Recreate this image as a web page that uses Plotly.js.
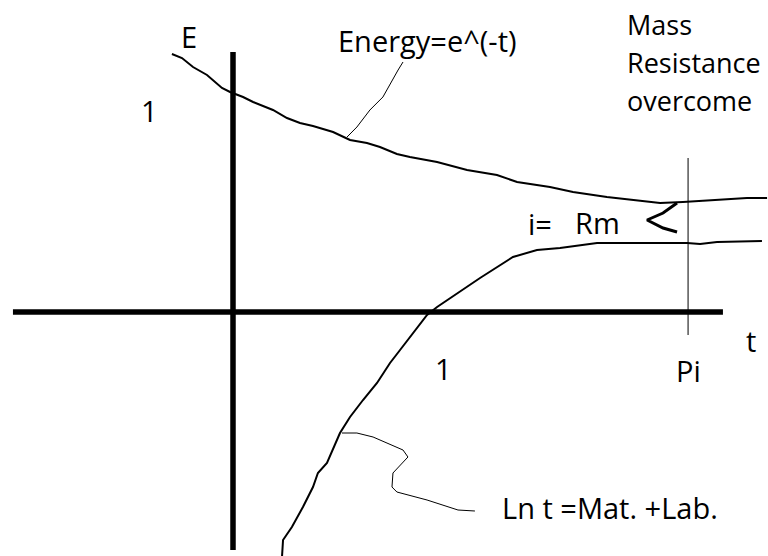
<!DOCTYPE html>
<html>
<head>
<meta charset="utf-8">
<script src="https://cdn.plot.ly/plotly-3.0.1.min.js"></script>
<style>html,body{margin:0;padding:0;background:#fff}#chart{width:768px;height:556px}</style>
</head>
<body>
<div id="chart"></div>
<script>
// Hand-drawn sketch values in chart units (t horizontally, E vertically)
const energyT = [-0.310,-0.259,-0.203,-0.132,-0.056,-0.015,0.051,0.102,0.203,0.274,0.340,0.406,0.508,0.594,0.680,0.746,0.832,0.898,1.036,1.188,1.340,1.442,1.609,1.726,1.898,2.030,2.168,2.284,2.472,2.609,2.711];
const energyE = [1.29,1.27,1.225,1.185,1.12,1.10,1.075,1.05,1.01,0.97,0.945,0.93,0.90,0.86,0.845,0.825,0.79,0.775,0.75,0.71,0.685,0.65,0.625,0.60,0.575,0.56,0.545,0.55,0.56,0.57,0.57];

const lnT = [0.249,0.254,0.299,0.355,0.406,0.431,0.477,0.543,0.594,0.660,0.731,0.797,0.848,0.914,0.985,1.036,1.102,1.254,1.421,1.543,1.660,1.848,2.030,2.305,2.371,2.457,2.685];
const lnE = [-1.22,-1.14,-1.075,-0.975,-0.875,-0.805,-0.755,-0.605,-0.525,-0.44,-0.355,-0.255,-0.19,-0.105,-0.015,0.025,0.07,0.17,0.275,0.31,0.32,0.345,0.345,0.345,0.34,0.35,0.355];

const energyLeaderT = [0.579,0.629,0.695,0.761,0.838,0.863];
const energyLeaderE = [0.875,0.925,1.01,1.075,1.21,1.25];

const lnLeaderT = [0.553,0.629,0.711,0.863,0.888,0.812,0.807,0.832,0.985,1.142,1.228];
const lnLeaderE = [-0.605,-0.605,-0.625,-0.69,-0.725,-0.805,-0.875,-0.90,-0.94,-0.99,-0.995];

const arrowT = [2.254,2.183,2.102,2.183,2.254];
const arrowE = [0.545,0.495,0.46,0.42,0.40];

const piT = [2.310,2.310];
const piE = [0.77,-0.115];

const tAxisT = [-1.117,2.487];
const tAxisE = [0,0];
const eAxisT = [0,0];
const eAxisE = [1.30,-1.19];

// Labels
const labelTexts = ["E","1","Energy=e^(-t)","Mass","Resistance","overcome","i=","Rm","t","1","Pi","Ln t =Mat. +Lab."];
const labelT =     [-0.223,-0.426,0.985,1.99,1.99,1.99,1.558,1.848,2.630,1.066,2.310,1.914];
const labelE =     [1.38,1.01,1.36,1.44,1.25,1.06,0.445,0.45,-0.14,-0.28,-0.29,-0.975];
const labelAnchor = ["center","center","center","left","left","left","center","center","center","center","center","center"];
const labelSize =   [29,29,29,27,27,27,29,29,29,29,29,29];

const black = "#000";
function line(x,y,w){return {x:x,y:y,mode:"lines",type:"scatter",line:{color:black,width:w,shape:"linear"},hoverinfo:"skip",showlegend:false};}

const data = [
  line(tAxisT,tAxisE,5.5),
  line(eAxisT,eAxisE,5.5),
  line(energyT,energyE,2),
  line(lnT,lnE,2),
  line(energyLeaderT,energyLeaderE,1),
  line(lnLeaderT,lnLeaderE,1),
  line(piT,piE,1),
  line(arrowT,arrowE,3)
];

const annotations = labelTexts.map((t,i)=>({
  x:labelT[i], y:labelE[i], xref:"x", yref:"y", text:t, showarrow:false,
  xanchor:labelAnchor[i], yanchor:"middle",
  font:{family:"Open Sans, sans-serif", size:labelSize[i], color:"#000"}
}));

const layout = {
  width:768, height:556,
  margin:{l:0,r:0,t:0,b:0},
  paper_bgcolor:"#fff", plot_bgcolor:"#fff",
  xaxis:{range:[-233/197,(768-233)/197], visible:false, fixedrange:true},
  yaxis:{range:[(312-556)/200,312/200], visible:false, fixedrange:true},
  annotations:annotations,
  showlegend:false
};

Plotly.newPlot("chart", data, layout, {staticPlot:true, displayModeBar:false});
</script>
</body>
</html>
